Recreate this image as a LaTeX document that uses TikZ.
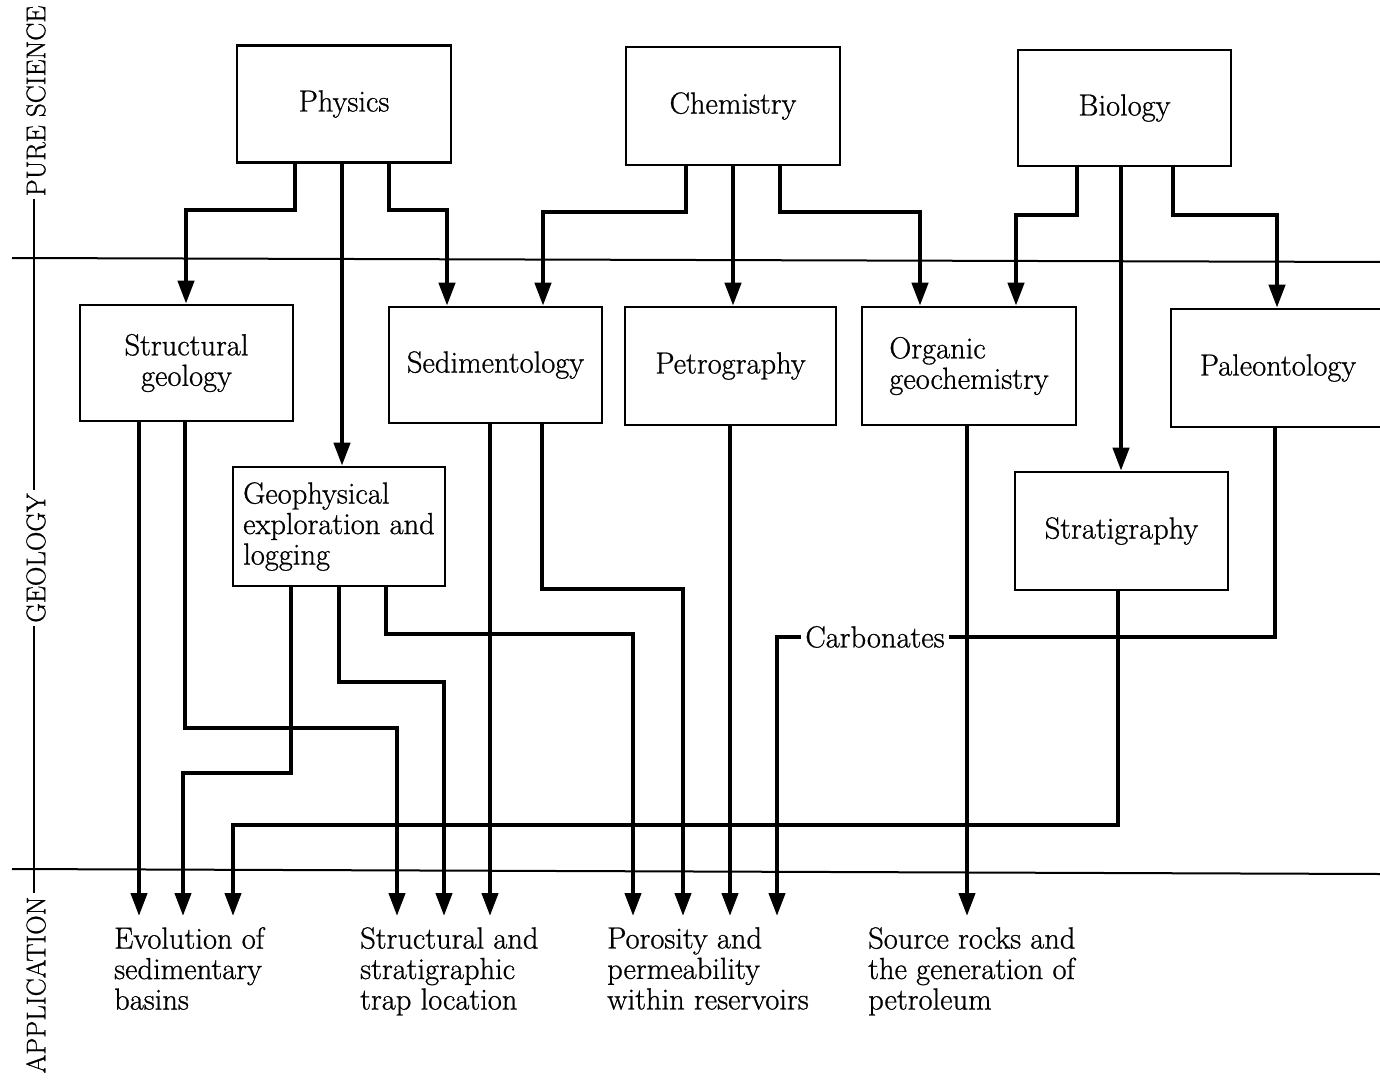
\documentclass[tikz,border=0pt]{standalone}
\usepackage{fontspec}
\newfontfamily\dfont{Latin Modern Roman}[FakeBold=0.8]
\usetikzlibrary{arrows.meta}
\begin{document}
\begin{tikzpicture}[x=1pt,y=-1pt,
  box/.style={draw,line width=2.6pt,inner sep=0pt,align=center,
    font=\dfont\fontsize{30.5}{30.5}\selectfont},
  lbox/.style={box,align=left},
  conn/.style={line width=4.2pt,line join=miter,-{Triangle[length=23pt,width=16pt]}},
  plain/.style={line width=4.2pt,line join=miter},
  divider/.style={line width=2pt},
  axis/.style={line width=2.4pt},
  side/.style={rotate=90,inner sep=3pt,font=\dfont\fontsize{27}{27}\selectfont},
  applab/.style={align=left,inner sep=0pt,anchor=north west,
    font=\dfont\fontsize{30.5}{30.5}\selectfont},
  carblab/.style={inner sep=4pt,font=\dfont\fontsize{30.5}{30.5}\selectfont}]
\useasboundingbox (0,0) rectangle (1380,1083);
\fill[white] (0,0) rectangle (1380,1083);

% dividers
\draw[divider] (12,258) -- (1380,262);
\draw[divider] (12,869) -- (1380,874);

% side labels
\node[side] (pure) at (36,101) {PURE SCIENCE};
\node[side] (geol) at (36,558) {GEOLOGY};
\node[side] (appl) at (36,985) {APPLICATION};
\draw[axis] (34,0 |- pure.west) -- (34,0 |- geol.east);
\draw[axis] (34,0 |- geol.west) -- (34,0 |- appl.east);

% pure science boxes
\node[box,minimum width=214pt,minimum height=117pt] (phys) at (344,104) {Physics};
\node[box,minimum width=214pt,minimum height=118pt] (chem) at (733,106) {Chemistry};
\node[box,minimum width=213pt,minimum height=116pt] (bio) at (1124.5,108) {Biology};

% geology boxes
\node[box,minimum width=213pt,minimum height=116pt] (struct) at (186.5,363) {Structural\\geology};
\node[box,minimum width=213pt,minimum height=116pt] (sed) at (495.5,365) {Sedimentology};
\node[box,minimum width=211pt,minimum height=118pt] (petro) at (730.5,366) {Petrography};
\node[lbox,minimum width=214pt,minimum height=118pt] (org) at (969,366) {Organic\\geochemistry};
\node[box,minimum width=230pt,minimum height=118pt] (paleo) at (1286,368) {\hspace*{-16pt}Paleontology};
\node[lbox,minimum width=212pt,minimum height=119pt] (geo) at (339,526.5) {Geophysical\\exploration and\\logging};
\node[box,minimum width=213pt,minimum height=118pt] (strat) at (1121.5,531) {Stratigraphy};

% application labels
\coordinate (tip) at (0,916);
\node[applab] (evo) at (114,927) {Evolution of\\sedimentary\\basins};
\node[applab] (trap) at (360,927) {Structural and\\stratigraphic\\trap location};
\node[applab] (poro) at (607,927) {Porosity and\\permeability\\within reservoirs};
\node[applab] (src) at (868,927) {Source rocks and\\the generation of\\petroleum};

% physics
\draw[conn] (295,0 |- phys.south) |- (186,210) -- (186,0 |- struct.north);
\draw[conn] (342,0 |- phys.south) -- (342,0 |- geo.north);
\draw[conn] (389,0 |- phys.south) |- (447,210) -- (447,0 |- sed.north);
% chemistry
\draw[conn] (686,0 |- chem.south) |- (543,212) -- (543,0 |- sed.north);
\draw[conn] (733,0 |- chem.south) -- (733,0 |- petro.north);
\draw[conn] (780,0 |- chem.south) |- (920,212) -- (920,0 |- org.north);
% biology
\draw[conn] (1077,0 |- bio.south) |- (1016,215) -- (1016,0 |- org.north);
\draw[conn] (1121,0 |- bio.south) -- (1121,0 |- strat.north);
\draw[conn] (1173,0 |- bio.south) |- (1277,215) -- (1277,0 |- paleo.north);

% structural geology
\draw[conn] (139,0 |- struct.south) -- (139,0 |- tip);
\draw[conn] (185,0 |- struct.south) |- (397,728) -- (397,0 |- tip);
% geophysical
\draw[conn] (291,0 |- geo.south) |- (183,773) -- (183,0 |- tip);
\draw[conn] (339,0 |- geo.south) |- (444,682) -- (444,0 |- tip);
\draw[conn] (386,0 |- geo.south) |- (633,634) -- (633,0 |- tip);
% sedimentology
\draw[conn] (490,0 |- sed.south) -- (490,0 |- tip);
\draw[conn] (542,0 |- sed.south) |- (683,589) -- (683,0 |- tip);
% petrography
\draw[conn] (730,0 |- petro.south) -- (730,0 |- tip);
% organic geochemistry
\draw[conn] (967,0 |- org.south) -- (967,0 |- tip);
% stratigraphy
\draw[conn] (1118,0 |- strat.south) |- (233,825) -- (233,0 |- tip);
% paleontology via carbonates
\node[carblab] (carb) at (875,637) {Carbonates};
\draw[plain] (1275,0 |- paleo.south) |- (carb.east);
\draw[conn] (carb.west) -| (777,0 |- tip);
\end{tikzpicture}
\end{document}
